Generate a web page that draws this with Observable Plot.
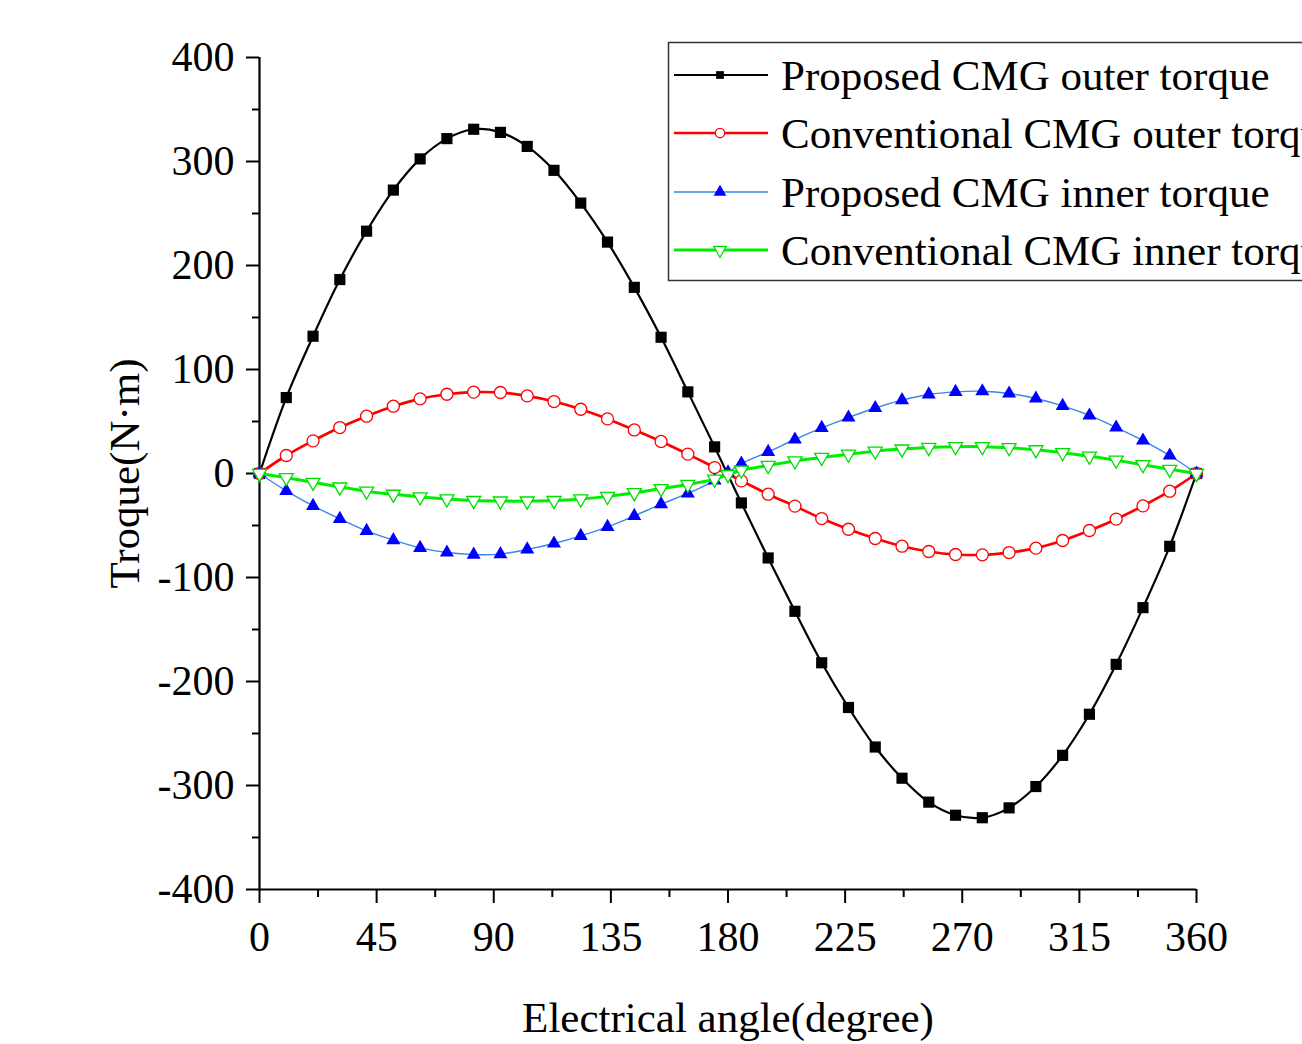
<!DOCTYPE html>
<html>
<head>
<meta charset="utf-8">
<script src="https://cdn.jsdelivr.net/npm/d3@7"></script>
<script src="https://cdn.jsdelivr.net/npm/@observablehq/plot@0.6"></script>
<style>
  html, body { margin: 0; padding: 0; background: #fff; overflow: hidden; }
  #chart { width: 1302px; height: 1044px; }
</style>
</head>
<body>
<div id="chart"></div>
<script>
// Sampling angles (electrical degrees) for the outer torque curves
const angles = [0, 10.29, 20.57, 30.86, 41.14, 51.43, 61.71, 72, 82.29, 92.57,
  102.86, 113.14, 123.43, 133.71, 144, 154.29, 164.57, 174.86, 185.14, 195.43,
  205.71, 216, 226.29, 236.57, 246.86, 257.14, 267.43, 277.71, 288, 298.29,
  308.57, 318.86, 329.14, 339.43, 349.71, 360];

// Inner torque curves carry one extra sample at 180°
const innerAngles = [0, 10.29, 20.57, 30.86, 41.14, 51.43, 61.71, 72, 82.29, 92.57,
  102.86, 113.14, 123.43, 133.71, 144, 154.29, 164.57, 174.86, 180, 185.14, 195.43,
  205.71, 216, 226.29, 236.57, 246.86, 257.14, 267.43, 277.71, 288, 298.29,
  308.57, 318.86, 329.14, 339.43, 349.71, 360];

const proposedOuter = [0, 73, 132, 186.5, 233, 272.5, 302.5, 322, 331, 328,
  314.5, 291.5, 260, 222.5, 179, 131, 78.5, 25.6, -28.3, -81.2,
  -132.5, -182, -225, -263, -293, -316, -328.6, -331, -321.5, -301,
  -271, -231.5, -183.5, -129, -70, 0];

const conventionalOuter = [0, 17.3, 31.4, 44.2, 55.1, 64.7, 71.8, 76.2, 78.2, 77.9,
  74.6, 69.2, 61.8, 52.5, 41.9, 30.8, 18.6, 5.7, -7.1, -19.9,
  -31.4, -43.3, -53.6, -62.5, -69.9, -75, -77.9, -78.2, -76, -71.8,
  -64.4, -54.8, -43.9, -31.1, -17, 0];

const proposedInner = [0, -16.7, -31.1, -43.6, -55.2, -64.1, -71.5, -76, -78, -77.5,
  -73, -67.3, -60, -51.3, -40.8, -29.5, -19.2, -6.8, 1, 9.6, 20.8,
  32.7, 43.8, 53.8, 63, 70.5, 76, 78.5, 79.1, 76.9, 72.1,
  65, 55.8, 44.2, 31.7, 17.3, 0];

const conventionalInner = [0, -4, -8.5, -13, -17, -20, -22.5, -24.5, -26, -26.5,
  -26.5, -26, -24.5, -22, -18.5, -14.5, -10.5, -5.5, -1, 3.2, 7.7,
  12.1, 15.4, 18.6, 21.5, 23.5, 25, 25.8, 25.8, 24.8, 22.8,
  20, 16.6, 12.8, 8.5, 4, 0];

const seriesNames = [
  "Proposed CMG outer torque",
  "Conventional CMG outer torque",
  "Proposed CMG inner torque",
  "Conventional CMG inner torque"
];

const xTicks = [0, 45, 90, 135, 180, 225, 270, 315, 360];
const xMinorTicks = [22.5, 67.5, 112.5, 157.5, 202.5, 247.5, 292.5, 337.5];
const yTicks = [-400, -300, -200, -100, 0, 100, 200, 300, 400];
const yMinorTicks = [-350, -250, -150, -50, 50, 150, 250, 350];

const xLabel = "Electrical angle(degree)";
const yLabel = "Troque(N·m)";

// Build row tables for each series
const rows = (xs, ys) => xs.map((x, i) => ({x, y: ys[i]}));
const blackData = rows(angles, proposedOuter);
const redData = rows(angles, conventionalOuter);
const blueData = rows(innerAngles, proposedInner);
const greenData = rows(innerAngles, conventionalInner);

const FONT = "'Liberation Serif', 'Times New Roman', serif";
const curve = "catmull-rom";

const chart = Plot.plot({
  width: 1302,
  height: 1044,
  marginLeft: 259,
  marginRight: 106,
  marginTop: 57,
  marginBottom: 155,
  style: {fontFamily: FONT, fontSize: "42px", background: "#fff", color: "#000", overflow: "hidden"},
  x: {domain: [0, 360]},
  y: {domain: [-400, 400]},
  marks: [
    // axes: major + minor ticks, axis lines
    Plot.axisY({ticks: yTicks, tickSize: 13, tickPadding: 12, strokeWidth: 2,
      tickFormat: d => String(d), label: null, fontSize: 42}),
    Plot.axisY({ticks: yMinorTicks, tickSize: 7, strokeWidth: 2,
      tickFormat: () => "", label: null}),
    Plot.axisX({ticks: xTicks, tickSize: 14, tickPadding: 18, strokeWidth: 2,
      tickFormat: d => String(d), label: null, fontSize: 42}),
    Plot.axisX({ticks: xMinorTicks, tickSize: 8, strokeWidth: 2,
      tickFormat: () => "", label: null}),
    Plot.ruleX([0], {stroke: "#000", strokeWidth: 2.2}),
    Plot.ruleY([-400], {stroke: "#000", strokeWidth: 2.2}),

    // axis titles
    Plot.text([xLabel], {text: d => d, frameAnchor: "bottom", dy: 129, lineAnchor: "middle",
      textAnchor: "middle", fontSize: 43, fill: "#000"}),
    Plot.text([yLabel], {text: d => d, frameAnchor: "left", dx: -134, rotate: -90,
      lineAnchor: "middle", textAnchor: "middle", fontSize: 43, fill: "#000"}),

    // Proposed CMG outer torque
    Plot.line(blackData, {x: "x", y: "y", stroke: "#000", strokeWidth: 2.2, curve}),
    Plot.dot(blackData, {x: "x", y: "y", symbol: "square", r: 6.3, fill: "#000", stroke: "none"}),

    // Conventional CMG outer torque
    Plot.line(redData, {x: "x", y: "y", stroke: "#ff0000", strokeWidth: 2.7, curve}),
    Plot.dot(redData, {x: "x", y: "y", symbol: "circle", r: 6, fill: "#fff", stroke: "#ff0000", strokeWidth: 1.3}),

    // Proposed CMG inner torque
    Plot.line(blueData, {x: "x", y: "y", stroke: "#3a85e8", strokeWidth: 1.4, curve}),
    Plot.dot(blueData, {x: "x", y: "y", symbol: "triangle", r: 5.2, fill: "#0000ff", stroke: "none"}),

    // Conventional CMG inner torque
    Plot.line(greenData, {x: "x", y: "y", stroke: "#00ee00", strokeWidth: 3, curve}),
    Plot.dot(greenData, {x: "x", y: "y", symbol: "triangle", rotate: 180, r: 5.2, fill: "#fff", stroke: "#00dd00", strokeWidth: 1.3})
  ]
});

document.getElementById("chart").appendChild(chart);

// Legend box in the upper right corner
const svg = d3.select(chart);
const legend = svg.append("g")
  .attr("font-family", FONT)
  .attr("font-size", 43)
  .attr("text-anchor", "start");
legend.append("rect")
  .attr("x", 668.5).attr("y", 42.5).attr("width", 700).attr("height", 238)
  .attr("fill", "#fff").attr("stroke", "#333").attr("stroke-width", 1.5);

const legendStyles = [
  {stroke: "#000", width: 2.2, symbol: d3.symbolSquare, size: 60, fill: "#000", mstroke: "none", rot: 0},
  {stroke: "#ff0000", width: 2.7, symbol: d3.symbolCircle, size: 70, fill: "#fff", mstroke: "#ff0000", rot: 0},
  {stroke: "#3a85e8", width: 1.4, symbol: d3.symbolTriangle, size: 70, fill: "#0000ff", mstroke: "none", rot: 0},
  {stroke: "#00ee00", width: 3, symbol: d3.symbolTriangle, size: 70, fill: "#fff", mstroke: "#00dd00", rot: 180}
];
const rowY = [75, 133, 192, 250];

seriesNames.forEach((name, i) => {
  const s = legendStyles[i];
  const y = rowY[i];
  const g = legend.append("g");
  g.append("line").attr("x1", 674).attr("x2", 768).attr("y1", y).attr("y2", y)
    .attr("stroke", s.stroke).attr("stroke-width", s.width);
  g.append("path").attr("d", d3.symbol(s.symbol, s.size)())
    .attr("transform", `translate(720,${y}) rotate(${s.rot})`)
    .attr("fill", s.fill).attr("stroke", s.mstroke).attr("stroke-width", 1.2);
  g.append("text").attr("x", 781).attr("y", y + 15).attr("fill", "#000")
    .attr("text-anchor", "start").text(name);
});
</script>
</body>
</html>
